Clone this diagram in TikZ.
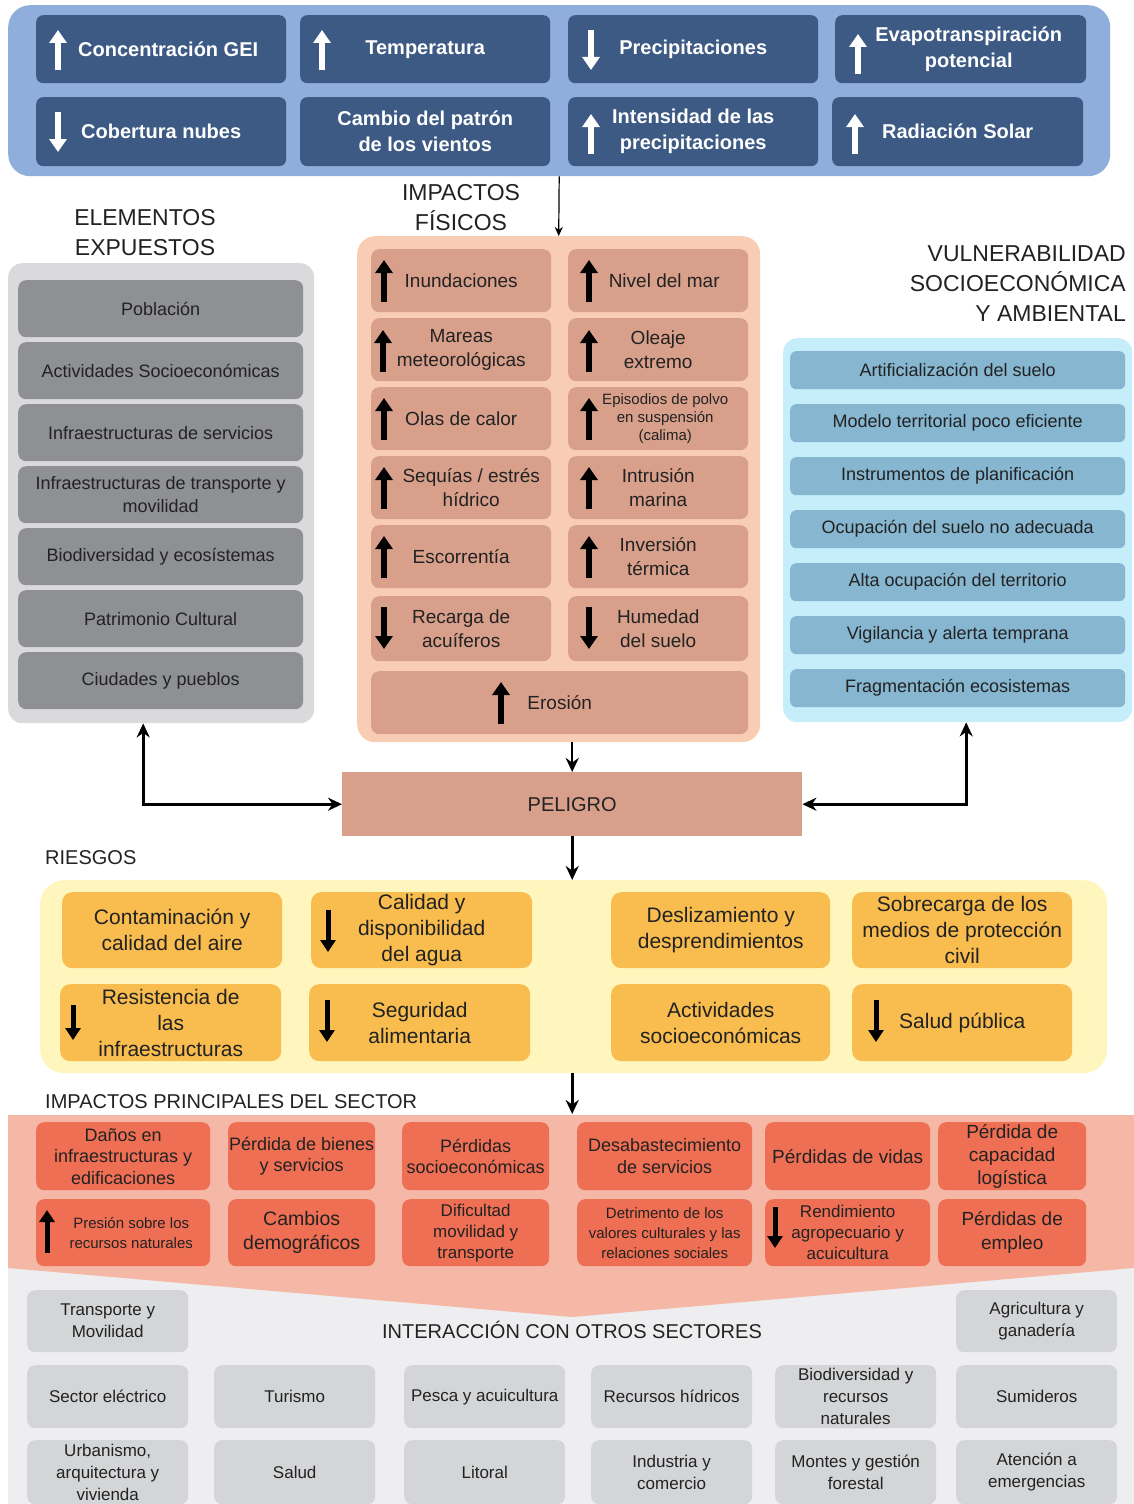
\documentclass[tikz,border=0pt]{standalone}
\usepackage{fontspec}
\setmainfont{Liberation Sans}
\usetikzlibrary{arrows.meta}
\definecolor{txt}{HTML}{222222}
\definecolor{topbg}{HTML}{8FAEDB}
\definecolor{topbox}{HTML}{3C5A84}
\definecolor{fisbg}{HTML}{F8CDB3}
\definecolor{fisbox}{HTML}{D8A08B}
\definecolor{expbg}{HTML}{DADADC}
\definecolor{expbox}{HTML}{8F9093}
\definecolor{vulbg}{HTML}{C6EEFA}
\definecolor{vulbox}{HTML}{86B6D0}
\definecolor{riesbg}{HTML}{FFF6BD}
\definecolor{riesbox}{HTML}{F8BD4E}
\definecolor{impbg}{HTML}{F5B8A6}
\definecolor{impbox}{HTML}{EE6F53}
\definecolor{interbg}{HTML}{EEEEF0}
\definecolor{interbox}{HTML}{D4D5D7}
\newcommand\fs[2]{\fontsize{#1}{#2}\selectfont}
\newcommand\rbox[7][]{\node[#1,anchor=north west,minimum width={#5pt-#3pt},minimum height={#6pt-#4pt}] (#2) at (#3,#4) {#7};}
\newcommand\rboxs[8][]{\node[#1,anchor=north west,minimum width={#5pt-#3pt},minimum height={#6pt-#4pt}] (#2) at (#3,#4) {};
  \node[#1,draw=none,fill=none,xshift=#7pt] (#2t) at (#2.center) {#8};}
\newcommand\gup[4]{\draw[#1] (#2,#4) -- (#2,#3);}
\newcommand\gdn[4]{\draw[#1] (#2,#3) -- (#2,#4);}
\tikzset{
  every node/.style={text=txt, align=center, inner sep=1pt},
  panel/.style={rounded corners=20pt},
  topbox/.style={fill=topbox, rounded corners=7pt, text=white, font=\bfseries\fs{20}{26}},
  fisbox/.style={fill=fisbox, rounded corners=8pt, font=\fs{19}{24}},
  expbox/.style={fill=expbox, rounded corners=8pt, font=\fs{18}{23}},
  vulbox/.style={fill=vulbox, rounded corners=6pt, font=\fs{18}{22}},
  riesbox/.style={fill=riesbox, rounded corners=10pt, font=\fs{21}{26}},
  impbox/.style={fill=impbox, rounded corners=8pt, inner xsep=0pt, font=\fs{18}{21.5}},
  interbox/.style={fill=interbox, rounded corners=8pt, font=\fs{17}{22}},
  heading/.style={font=\fs{23}{30}},
  section/.style={font=\fs{20}{24}},
  wglyph/.style={white, line width=6pt, -{Triangle[width=17pt,length=13pt]}},
  bglyph/.style={black, line width=6pt, -{Triangle[width=17pt,length=13pt]}},
  sglyph/.style={black, line width=5pt, -{Triangle[width=15pt,length=12pt]}},
  conn/.style={black, line width=3pt, -{Stealth[length=14pt,width=13pt]}},
  dconn/.style={black, line width=3pt, {Stealth[length=14pt,width=13pt]}-{Stealth[length=14pt,width=13pt]}},
  thinconn/.style={black, line width=1.2pt, -{Stealth[length=9pt,width=8pt]}}
}
\begin{document}
\begin{tikzpicture}[x=1pt,y=-1pt]
\useasboundingbox (0,0) rectangle (1134,1504);
\fill[white] (0,0) rectangle (1134,1504);

% ---------- climate drivers ----------
\rbox[panel, fill=topbg, rounded corners=22pt]{clima}{8}{5}{1110}{176}{}
\rboxs[topbox]{t1}{36}{15}{286}{83}{7}{Concentración GEI}
\rbox[topbox]{t2}{300}{15}{550}{83}{Temperatura}
\rbox[topbox]{t3}{568}{15}{818}{83}{Precipitaciones}
\rboxs[topbox]{t4}{835}{15}{1086}{83}{8}{Evapotranspiración\\potencial}
\rbox[topbox]{t5}{36}{97}{286}{166}{Cobertura nubes}
\rbox[topbox]{t6}{300}{97}{550}{166}{Cambio del patrón\\de los vientos}
\rbox[topbox]{t7}{568}{97}{818}{166}{Intensidad de las\\precipitaciones}
\rbox[topbox]{t8}{832}{97}{1083}{166}{Radiación Solar}
\gup{wglyph}{58}{30}{70}
\gup{wglyph}{322}{30}{70}
\gdn{wglyph}{591}{30}{70}
\gup{wglyph}{858}{34}{74}
\gdn{wglyph}{58}{112}{152}
\gup{wglyph}{591}{114}{154}
\gup{wglyph}{855}{114}{154}

% ---------- headings ----------
\node[heading] (hfis) at (461,208) {IMPACTOS\\FÍSICOS};
\node[heading] (hexp) at (145,233) {ELEMENTOS\\EXPUESTOS};
\node[heading, align=right, anchor=east] (hvul) at (1127,284) {VULNERABILIDAD\\SOCIOECONÓMICA\\Y AMBIENTAL};

% ---------- physical impacts ----------
\rbox[panel, fill=fisbg, rounded corners=18pt]{fis}{357}{236}{760}{742}{}
\rbox[fisbox]{f1}{371}{249}{551}{312}{Inundaciones}
\rboxs[fisbox]{f2}{568}{249}{748}{312}{6}{Nivel del mar}
\rbox[fisbox]{f3}{371}{318}{551}{381}{Mareas\\meteorológicas}
\rbox[fisbox]{f4}{568}{318}{748}{381}{Oleaje\\extremo}
\rbox[fisbox]{f5}{371}{387}{551}{450}{Olas de calor}
\rboxs[fisbox, font=\fs{15}{18}]{f6}{568}{387}{748}{450}{7}{Episodios de polvo\\en suspensión\\(calima)}
\rboxs[fisbox]{f7}{371}{456}{551}{519}{10}{Sequías / estrés\\hídrico}
\rbox[fisbox]{f8}{568}{456}{748}{519}{Intrusión\\marina}
\rbox[fisbox]{f9}{371}{525}{551}{588}{Escorrentía}
\rbox[fisbox]{f10}{568}{525}{748}{588}{Inversión\\térmica}
\rbox[fisbox]{f11}{371}{596}{551}{661}{Recarga de\\acuíferos}
\rbox[fisbox]{f12}{568}{596}{748}{661}{Humedad\\del suelo}
\rbox[fisbox]{f13}{371}{671}{748}{734}{Erosión}
\gup{bglyph}{384}{260}{302}
\gup{bglyph}{589}{260}{302}
\gup{bglyph}{383}{330}{372}
\gup{bglyph}{589}{330}{372}
\gup{bglyph}{384}{398}{440}
\gup{bglyph}{589}{398}{440}
\gup{bglyph}{384}{467}{509}
\gup{bglyph}{589}{467}{509}
\gup{bglyph}{384}{536}{578}
\gup{bglyph}{589}{536}{578}
\gdn{bglyph}{384}{607}{649}
\gdn{bglyph}{589}{607}{649}
\gup{bglyph}{501}{682}{724}

% ---------- exposed elements ----------
\rbox[panel, fill=expbg, rounded corners=14pt]{exp}{8}{263}{314}{723}{}
\rbox[expbox]{e1}{18}{280}{303}{337}{Población}
\rbox[expbox]{e2}{18}{342}{303}{399}{Actividades Socioeconómicas}
\rbox[expbox]{e3}{18}{404}{303}{461}{Infraestructuras de servicios}
\rbox[expbox]{e4}{18}{466}{303}{523}{Infraestructuras de transporte y\\movilidad}
\rbox[expbox]{e5}{18}{528}{303}{585}{Biodiversidad y ecosístemas}
\rbox[expbox]{e6}{18}{590}{303}{647}{Patrimonio Cultural}
\rbox[expbox]{e7}{18}{652}{303}{709}{Ciudades y pueblos}

% ---------- vulnerability ----------
\rbox[panel, fill=vulbg, rounded corners=14pt]{vul}{783}{338}{1132}{722}{}
\rbox[vulbox]{v1}{790}{351}{1125}{389}{Artificialización del suelo}
\rbox[vulbox]{v2}{790}{404}{1125}{442}{Modelo territorial poco eficiente}
\rbox[vulbox]{v3}{790}{457}{1125}{495}{Instrumentos de planificación}
\rbox[vulbox]{v4}{790}{510}{1125}{548}{Ocupación del suelo no adecuada}
\rbox[vulbox]{v5}{790}{563}{1125}{601}{Alta ocupación del territorio}
\rbox[vulbox]{v6}{790}{616}{1125}{654}{Vigilancia y alerta temprana}
\rbox[vulbox]{v7}{790}{669}{1125}{707}{Fragmentación ecosistemas}

% ---------- hazard ----------
\rbox[fill=fisbox, font=\fs{20}{24}]{pel}{342}{772}{802}{836}{PELIGRO}

% ---------- risks ----------
\node[section, anchor=west] (hries) at (44,858) {RIESGOS};
\rbox[panel, fill=riesbg, rounded corners=24pt]{ries}{40}{880}{1107}{1073}{}
\rbox[riesbox]{r1}{62}{892}{282}{968}{Contaminación y\\calidad del aire}
\rbox[riesbox]{r2}{311}{892}{532}{968}{Calidad y\\disponibilidad\\del agua}
\rbox[riesbox]{r3}{611}{892}{830}{968}{Deslizamiento y\\desprendimientos}
\rbox[riesbox]{r4}{852}{892}{1072}{968}{Sobrecarga de los\\medios de protección\\civil}
\rbox[riesbox]{r5}{60}{984}{281}{1061}{Resistencia de\\las\\infraestructuras}
\rbox[riesbox]{r6}{309}{984}{530}{1061}{Seguridad\\alimentaria}
\rbox[riesbox]{r7}{611}{984}{830}{1061}{Actividades\\socioeconómicas}
\rbox[riesbox]{r8}{852}{984}{1072}{1061}{Salud pública}
\gdn{sglyph}{328}{910}{952}
\gdn{sglyph}{73}{1005}{1040}
\gdn{sglyph}{327}{1000}{1042}
\gdn{sglyph}{876}{1000}{1042}

% ---------- interaction background and impact band ----------
\fill[interbg] (8,1255) rectangle (1134,1504);
\fill[impbg] (8,1115) -- (1134,1115) -- (1134,1268) -- (572,1317) -- (8,1268) -- cycle;
\coordinate (band) at (573.5,1114);
\node[section, anchor=west] (himp) at (44,1102) {IMPACTOS PRINCIPALES DEL SECTOR};
\rbox[impbox]{i1}{36}{1122}{210}{1190}{Daños en\\infraestructuras y\\edificaciones}
\rbox[impbox]{i2}{228}{1122}{375}{1190}{Pérdida de bienes\\y servicios}
\rbox[impbox]{i3}{402}{1122}{549}{1190}{Pérdidas\\socioeconómicas}
\rbox[impbox]{i4}{577}{1122}{752}{1190}{Desabastecimiento\\de servicios}
\rbox[impbox, font=\fs{19}{23}]{i5}{765}{1122}{930}{1190}{Pérdidas de vidas}
\rbox[impbox, font=\fs{19}{23}]{i6}{938}{1122}{1086}{1190}{Pérdida de\\capacidad\\logística}
\rboxs[impbox, font=\fs{15}{20}]{i7}{36}{1199}{210}{1266}{8}{Presión sobre los\\recursos naturales}
\rbox[impbox, font=\fs{19.5}{24}]{i8}{228}{1199}{375}{1266}{Cambios\\demográficos}
\rbox[impbox, font=\fs{17}{21}]{i9}{402}{1199}{549}{1266}{Dificultad\\movilidad y\\transporte}
\rbox[impbox, font=\fs{15}{20}]{i10}{577}{1199}{752}{1266}{Detrimento de los\\valores culturales y las\\relaciones sociales}
\rbox[impbox, font=\fs{17}{21}]{i11}{765}{1199}{930}{1266}{Rendimiento\\agropecuario y\\acuicultura}
\rbox[impbox, font=\fs{19}{24}]{i12}{938}{1199}{1086}{1266}{Pérdidas de\\empleo}
\gup{sglyph}{47}{1210}{1253}
\gdn{sglyph}{775}{1207}{1248}

% ---------- interaction with other sectors ----------
\node[section] (hint) at (572,1330) {INTERACCIÓN CON OTROS SECTORES};
\rbox[interbox]{s1}{27}{1290}{188}{1352}{Transporte y\\Movilidad}
\rbox[interbox]{s2}{956}{1290}{1117}{1352}{Agricultura y\\ganadería}
\rbox[interbox]{s3}{27}{1365}{188}{1428}{Sector eléctrico}
\rbox[interbox]{s4}{214}{1365}{375}{1428}{Turismo}
\rbox[interbox]{s5}{404}{1365}{565}{1428}{Pesca y acuicultura}
\rbox[interbox]{s6}{591}{1365}{752}{1428}{Recursos hídricos}
\rbox[interbox]{s7}{775}{1365}{936}{1428}{Biodiversidad y\\recursos\\naturales}
\rbox[interbox]{s8}{956}{1365}{1117}{1428}{Sumideros}
\rbox[interbox]{s9}{27}{1440}{188}{1504}{Urbanismo,\\arquitectura y\\vivienda}
\rbox[interbox]{s10}{214}{1440}{375}{1504}{Salud}
\rbox[interbox]{s11}{404}{1440}{565}{1504}{Litoral}
\rbox[interbox]{s12}{591}{1440}{752}{1504}{Industria y\\comercio}
\rbox[interbox]{s13}{775}{1440}{936}{1504}{Montes y gestión\\forestal}
\rbox[interbox]{s14}{956}{1440}{1117}{1504}{Atención a\\emergencias}

% ---------- connectors ----------
\draw[thinconn] (clima.south) -- (fis.north);
\draw[conn, line width=2.5pt] (pel.north |- fis.south) -- (pel.north);
\draw[conn] (pel.south) -- (pel.south |- ries.north);
\draw[conn] (pel.south |- ries.south) -- (pel.south |- band);
\draw[dconn] ([xshift=-18pt]exp.south) |- (pel.west);
\draw[dconn] ([xshift=8.5pt]vul.south) |- (pel.east);
\end{tikzpicture}
\end{document}
